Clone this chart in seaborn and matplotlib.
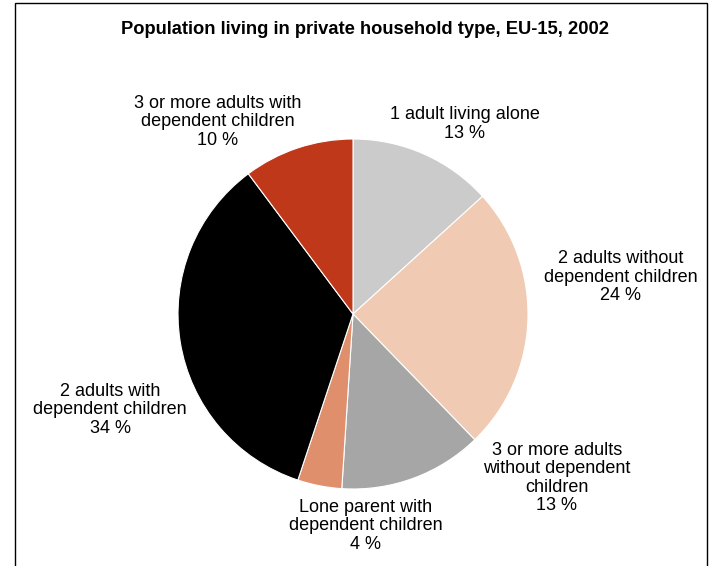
import matplotlib
matplotlib.use("Agg")
import matplotlib.pyplot as plt
import seaborn as sns

# Household types, shares (%) and slice colours
categories = [
    "1 adult living alone",
    "2 adults without\ndependent children",
    "3 or more adults\nwithout dependent\nchildren",
    "Lone parent with\ndependent children",
    "2 adults with\ndependent children",
    "3 or more adults with\ndependent children",
]
shares = [13, 24, 13, 4, 34, 10]
colors = ["#CBCBCB", "#F0CAB2", "#A6A6A6", "#DF8F6B", "#000000", "#BE3819"]

# label anchor points (canvas pixels, origin at top-left)
label_pos = [(465, 124), (621, 277), (557, 478), (366, 526), (110, 410), (218, 122)]

title = "Population living in private household type, EU-15, 2002"

sns.set_theme(style="white")
plt.rcParams["font.family"] = ["Liberation Sans", "DejaVu Sans"]

W, H = 713, 566
fig = plt.figure(figsize=(W / 100, H / 100), dpi=100)
ax = fig.add_axes([0, 0, 1, 1])

palette = sns.color_palette(colors)
ax.pie(
    shares,
    colors=palette,
    startangle=90,
    counterclock=False,
    center=(353, H - 314),
    radius=175,
    wedgeprops=dict(edgecolor="white", linewidth=0.8),
    frame=False,
)
ax.set_xlim(0, W)
ax.set_ylim(0, H)
ax.set_aspect("equal")
ax.axis("off")

for cat, val, (x, y) in zip(categories, shares, label_pos):
    ax.text(x, H - y, f"{cat}\n{val} %", ha="center", va="center",
            multialignment="center", fontsize=13, color="black",
            linespacing=1.1)

ax.text(365, H - 30, title, ha="center", va="center", fontsize=13.2,
        fontweight="bold", color="black")

# chart border (left, top, right)
ax.plot([15, 15, 707, 707], [-5, H - 3, H - 3, -5], color="black", lw=1.0,
        clip_on=False, solid_joinstyle="miter")

fig.savefig("out.png", dpi=100)
